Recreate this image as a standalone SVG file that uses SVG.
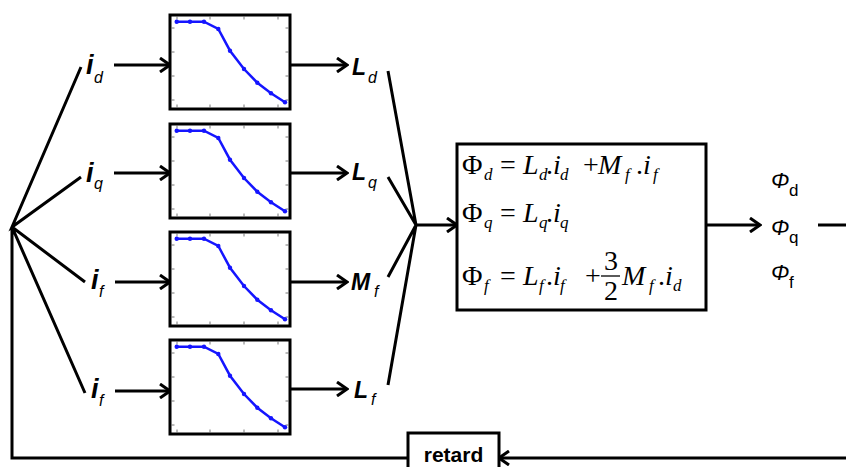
<svg xmlns="http://www.w3.org/2000/svg" width="846" height="467" viewBox="0 0 846 467">
<style>
.ln{fill:none;stroke:#000;stroke-width:3}
.ar{fill:none;stroke:#000;stroke-width:3;marker-end:url(#ah)}
.box{fill:#fff;stroke:#000;stroke-width:3}
.tk{stroke:#555;stroke-width:0.8}
.crv{fill:none;stroke:#1515ff;stroke-width:2.5}
.dot{fill:#1515ff}
.lb{font-family:"Liberation Sans",Arial,sans-serif;font-weight:bold;font-style:italic;fill:#000}
.sb{font-family:"Liberation Sans",Arial,sans-serif;font-style:italic;font-weight:normal;font-size:16px}
.eq{font-family:"Liberation Serif","Times New Roman",serif;font-size:28px;fill:#000}
.ei{font-style:italic}
.es{font-style:italic;font-size:17px}
.ph{font-family:"Liberation Sans",Arial,sans-serif;fill:#000;font-size:22px;font-style:italic}
.ps{font-style:normal;font-size:17px}
</style>
<defs>
<marker id="ah" viewBox="0 0 14 16" refX="12" refY="8" markerWidth="14" markerHeight="16" orient="auto" markerUnits="userSpaceOnUse">
<path d="M2,1 L12,8 L2,15" fill="none" stroke="#000" stroke-width="3"/>
</marker>
<g id="plot">
<rect class="box" x="0" y="0" width="120" height="94"/>
<g class="tk">
<path d="M1.5,13 h3 M1.5,37 h3 M1.5,61 h3 M1.5,85 h3 M118.5,13 h-3 M118.5,37 h-3 M118.5,61 h-3 M118.5,85 h-3 M7,92.5 v-3 M40,92.5 v-3 M74,92.5 v-3 M108,92.5 v-3 M7,1.5 v3 M40,1.5 v3 M74,1.5 v3 M108,1.5 v3"/>
</g>
<polyline class="crv" points="6.7,6.7 20,6.7 34,6.7 48.3,14 60,35.7 74,54 87.3,67.7 101,78.3 115,87.3"/>
<g class="dot">
<circle cx="6.7" cy="6.7" r="2.2"/><circle cx="20" cy="6.7" r="2.2"/><circle cx="34" cy="6.7" r="2.2"/><circle cx="48.3" cy="14" r="2.2"/><circle cx="60" cy="35.7" r="2.2"/><circle cx="74" cy="54" r="2.2"/><circle cx="87.3" cy="67.7" r="2.2"/><circle cx="101" cy="78.3" r="2.2"/><circle cx="115" cy="87.3" r="2.2"/>
</g>
</g>
</defs>
<rect width="846" height="467" fill="#fff"/>

<g id="connectors">
<path class="ln" d="M81,67 L12,227 L81,177 M12,227 L85,282 M12,227 L85,393 M12,227 V458 H408"/>
<path class="ar" d="M114,65 H170"/>
<path class="ar" d="M114,173 H170"/>
<path class="ar" d="M115,282 H170"/>
<path class="ar" d="M115,391 H170"/>
<path class="ar" d="M290,65 H347"/>
<path class="ar" d="M290,173 H347"/>
<path class="ar" d="M290,282 H347"/>
<path class="ar" d="M290,389 H347"/>
<path class="ln" d="M388,71 L416,225 L388,177 M416,225 L388,277 M416,225 L388,385"/>
<path class="ar" d="M416,225 H457"/>
<path class="ar" d="M706,225 H760"/>
<path class="ln" d="M818,225 H846"/>
<path class="ar" d="M846,458 H499"/>
</g>

<g id="input-labels">
<text class="lb" font-size="27" x="86" y="74">i<tspan class="sb" x="94" y="83">d</tspan></text>
<text class="lb" font-size="27" x="86" y="182">i<tspan class="sb" x="94" y="189">q</tspan></text>
<text class="lb" font-size="27" x="91" y="289">i<tspan class="sb" x="99" y="297">f</tspan></text>
<text class="lb" font-size="27" x="91" y="398">i<tspan class="sb" x="99" y="406">f</tspan></text>
</g>

<g id="table-Ld" transform="translate(170,15)"><use href="#plot"/></g>
<g id="table-Lq" transform="translate(170,124)"><use href="#plot"/></g>
<g id="table-Mf" transform="translate(170,232)"><use href="#plot"/></g>
<g id="table-Lf" transform="translate(170,340)"><use href="#plot"/></g>

<g id="output-labels">
<text class="lb" font-size="23" x="352" y="75">L<tspan class="sb" x="368" y="83">d</tspan></text>
<text class="lb" font-size="23" x="352" y="180">L<tspan class="sb" x="368" y="188">q</tspan></text>
<text class="lb" font-size="23" x="351" y="290">M<tspan class="sb" x="374" y="297">f</tspan></text>
<text class="lb" font-size="23" x="354" y="398">L<tspan class="sb" x="371" y="405">f</tspan></text>
</g>

<g id="equations">
<rect class="box" x="457" y="144" width="249" height="166"/>
<text class="eq" y="174"><tspan x="462">Φ</tspan><tspan class="es" x="484" y="180">d</tspan><tspan x="500" y="174">=</tspan><tspan class="ei" x="523">L</tspan><tspan class="es" x="539" y="180">d</tspan><tspan x="546" y="174">.</tspan><tspan class="ei" x="553">i</tspan><tspan class="es" x="560" y="180">d</tspan><tspan x="583" y="174">+</tspan><tspan class="ei" x="598">M</tspan><tspan class="es" x="625" y="180">f</tspan><tspan x="636" y="174">.</tspan><tspan class="ei" x="643">i</tspan><tspan class="es" x="653" y="180">f</tspan></text>
<text class="eq" y="222"><tspan x="462">Φ</tspan><tspan class="es" x="484" y="228">q</tspan><tspan x="500" y="222">=</tspan><tspan class="ei" x="523">L</tspan><tspan class="es" x="539" y="228">q</tspan><tspan x="546" y="222">.</tspan><tspan class="ei" x="553">i</tspan><tspan class="es" x="560" y="228">q</tspan></text>
<text class="eq" y="285"><tspan x="462">Φ</tspan><tspan class="es" x="484" y="291">f</tspan><tspan x="500" y="285">=</tspan><tspan class="ei" x="523">L</tspan><tspan class="es" x="539" y="291">f</tspan><tspan x="546" y="285">.</tspan><tspan class="ei" x="553">i</tspan><tspan class="es" x="560" y="291">f</tspan><tspan x="585" y="285">+</tspan><tspan class="ei" x="622">M</tspan><tspan class="es" x="649" y="291">f</tspan><tspan x="658" y="285">.</tspan><tspan class="ei" x="665">i</tspan><tspan class="es" x="673" y="291">d</tspan></text>
<text class="eq" x="604" y="270">3</text>
<line x1="601" y1="276" x2="620" y2="276" stroke="#000" stroke-width="1.3"/>
<text class="eq" x="604" y="300">2</text>
</g>

<g id="flux-labels">
<text class="ph" x="771" y="188">Φ<tspan class="ps" x="789" y="196">d</tspan></text>
<text class="ph" x="771" y="235">Φ<tspan class="ps" x="789" y="243">q</tspan></text>
<text class="ph" x="771" y="280">Φ<tspan class="ps" x="789" y="288">f</tspan></text>
</g>

<g id="retard">
<rect class="box" x="408" y="433" width="91" height="45"/>
<text x="453.5" y="462" text-anchor="middle" font-family="'Liberation Sans',Arial,sans-serif" font-weight="bold" font-size="21">retard</text>
</g>
</svg>
